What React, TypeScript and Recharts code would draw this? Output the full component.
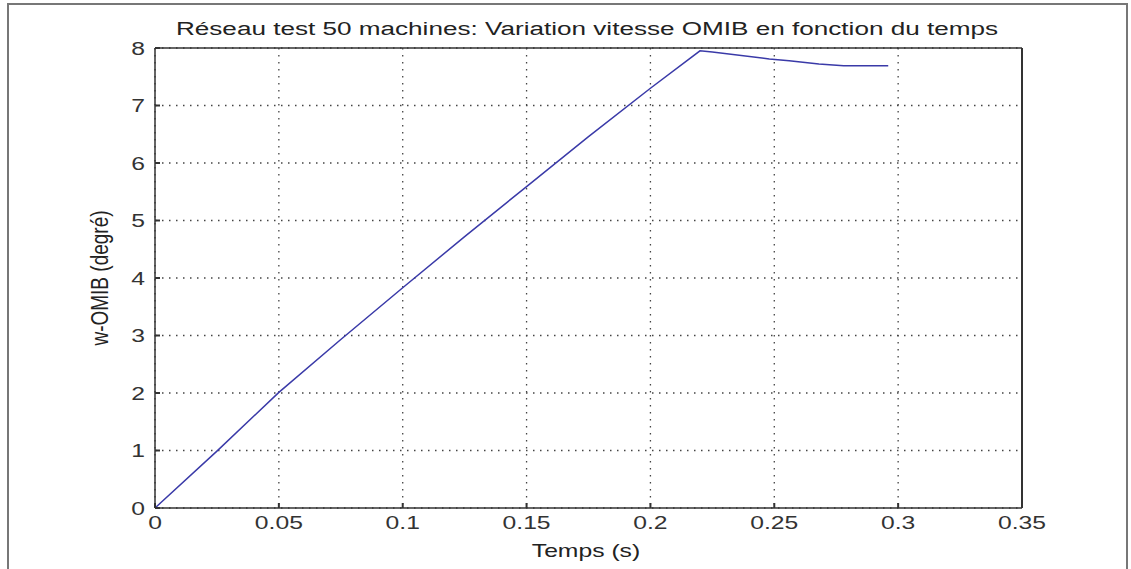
import React from 'react';
import { LineChart, Line, XAxis, YAxis, CartesianGrid } from 'recharts';

// time (s) and OMIB speed (degrees)
const temps = [0, 0.025, 0.05, 0.075, 0.1, 0.125, 0.15, 0.175, 0.2, 0.22, 0.225, 0.248, 0.256, 0.268, 0.278, 0.296];
const vitesse = [0, 0.99, 2.01, 2.93, 3.83, 4.72, 5.59, 6.46, 7.3, 7.95, 7.93, 7.81, 7.78, 7.72, 7.69, 7.69];

const xTicks = [0, 0.05, 0.1, 0.15, 0.2, 0.25, 0.3, 0.35];
const yTicks = [0, 1, 2, 3, 4, 5, 6, 7, 8];

const data = temps.map((t, i) => ({ t, w: vitesse[i] }));

const FONT = '"Liberation Sans", Arial, sans-serif';
const STRETCH = 1.3;
const AXIS = '#333';
const tickLine = { stroke: AXIS, strokeWidth: 2 };

const XTick = ({ x, y, payload }: any) => (
  <g transform={`translate(${x},${y})`}>
    <text
      transform={`scale(${STRETCH},1)`}
      textAnchor="middle"
      dy="0.71em"
      fontSize={19}
      fontFamily={FONT}
      fill="#333"
    >
      {String(payload.value)}
    </text>
  </g>
);

const YTick = ({ x, y, payload }: any) => (
  <g transform={`translate(${x},${y})`}>
    <text
      transform={`scale(${STRETCH},1)`}
      textAnchor="end"
      dy="0.355em"
      fontSize={19}
      fontFamily={FONT}
      fill="#333"
    >
      {String(payload.value)}
    </text>
  </g>
);

const labelStyle: React.CSSProperties = {
  position: 'absolute',
  fontFamily: FONT,
  color: '#222',
  whiteSpace: 'nowrap',
  lineHeight: 1,
};

export default function App() {
  return (
    <div style={{ position: 'absolute', left: 0, top: 0, width: 1131, height: 569, background: '#fff', overflow: 'hidden' }}>
      <div
        style={{
          position: 'absolute',
          left: 7,
          top: 3,
          width: 1121,
          height: 600,
          border: '2px solid #777',
          boxSizing: 'border-box',
        }}
      />
      <LineChart
        width={1131}
        height={569}
        data={data}
        margin={{ top: 47, right: 108, bottom: 21, left: 95 }}
        style={{ position: 'absolute', left: 0, top: 0 }}
      >
        <CartesianGrid stroke="#444" strokeWidth={1.3} strokeDasharray="1.5 5.5" />
        <XAxis
          dataKey="t"
          type="number"
          domain={[0, 0.35]}
          ticks={xTicks}
          height={40}
          tickSize={-5}
          tickMargin={13}
          stroke={AXIS}
          strokeWidth={1.5}
          tickLine={tickLine}
          tick={<XTick />}
          interval={0}
        />
        <XAxis
          xAxisId="top"
          orientation="top"
          type="number"
          domain={[0, 0.35]}
          ticks={xTicks}
          height={1}
          tickSize={-5}
          stroke={AXIS}
          strokeWidth={1.5}
          tickLine={tickLine}
          tick={false}
          interval={0}
        />
        <YAxis
          type="number"
          domain={[0, 8]}
          ticks={yTicks}
          width={60}
          tickSize={-5}
          tickMargin={15}
          stroke={AXIS}
          strokeWidth={1.5}
          tickLine={tickLine}
          tick={<YTick />}
          interval={0}
        />
        <YAxis
          yAxisId="right"
          orientation="right"
          type="number"
          domain={[0, 8]}
          ticks={yTicks}
          width={1}
          tickSize={-5}
          stroke={AXIS}
          strokeWidth={2}
          tickLine={tickLine}
          tick={false}
          interval={0}
        />
        <Line
          dataKey="w"
          type="linear"
          stroke="#3a3aa8"
          strokeWidth={1.5}
          dot={false}
          isAnimationActive={false}
        />
      </LineChart>
      <div style={{ ...labelStyle, left: 587, top: 29, fontSize: 18, transform: 'translate(-50%,-50%) scaleX(1.45)' }}>
        Réseau test 50 machines: Variation vitesse OMIB en fonction du temps
      </div>
      <div style={{ ...labelStyle, left: 586, top: 550, fontSize: 19, transform: `translate(-50%,-50%) scaleX(${STRETCH})` }}>
        Temps (s)
      </div>
      <div
        style={{
          ...labelStyle,
          left: 100,
          top: 278,
          fontSize: 19,
          transform: `translate(-50%,-50%) scaleX(${STRETCH}) rotate(-90deg)`,
        }}
      >
        w-OMIB (degré)
      </div>
    </div>
  );
}
